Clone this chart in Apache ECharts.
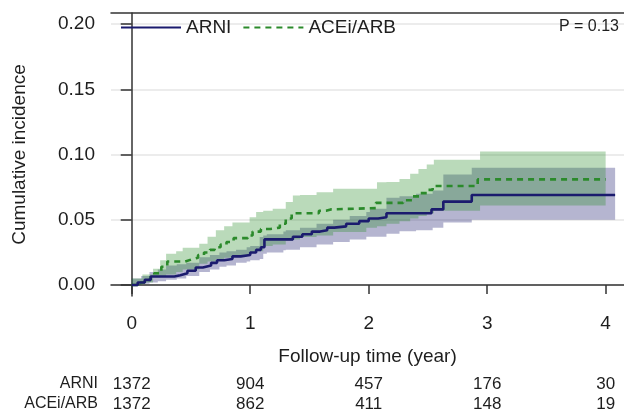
<!DOCTYPE html>
<html>
<head>
<meta charset="utf-8">
<script src="https://cdn.jsdelivr.net/npm/echarts@6.0.0/dist/echarts.min.js"></script>
<style>
  html, body { margin: 0; padding: 0; background: #fff; }
  #chart { width: 624px; height: 415px; }
</style>
</head>
<body>
<div id="chart"></div>
<script>
// cumulative incidence, step curves
const arniTime = [0, 0.05, 0.11, 0.16, 0.36, 0.41, 0.47, 0.54, 0.60, 0.67, 0.72, 0.78, 0.85, 0.92, 1.00, 1.05, 1.09, 1.12, 1.36, 1.44, 1.52, 1.59, 1.65, 1.71, 1.81, 1.92, 2.00, 2.08, 2.15, 2.53, 2.63, 2.87, 4.08];
const arniInc = [0, 0.002, 0.004, 0.0065, 0.0075, 0.009, 0.011, 0.0135, 0.015, 0.017, 0.019, 0.020, 0.022, 0.023, 0.025, 0.027, 0.029, 0.035, 0.037, 0.039, 0.041, 0.042, 0.044, 0.045, 0.047, 0.049, 0.051, 0.052, 0.055, 0.058, 0.064, 0.069, 0.069];

const aceiTime = [0, 0.05, 0.11, 0.16, 0.19, 0.25, 0.30, 0.45, 0.50, 0.56, 0.61, 0.66, 0.70, 0.75, 0.80, 0.86, 0.98, 1.02, 1.09, 1.17, 1.25, 1.30, 1.35, 1.58, 1.64, 1.68, 2.06, 2.29, 2.37, 2.43, 2.50, 2.54, 2.92, 4.00];
const aceiInc = [0, 0.002, 0.004, 0.007, 0.009, 0.014, 0.018, 0.0195, 0.021, 0.023, 0.025, 0.027, 0.029, 0.031, 0.033, 0.036, 0.038, 0.041, 0.043, 0.044, 0.047, 0.051, 0.055, 0.057, 0.058, 0.059, 0.063, 0.065, 0.068, 0.0705, 0.073, 0.076, 0.081, 0.081];

// 95% CI bands
const arniBandTime = [0, 0.08, 0.15, 0.22, 0.29, 0.38, 0.46, 0.57, 0.66, 0.74, 0.80, 0.88, 0.97, 1.00, 1.08, 1.11, 1.14, 1.28, 1.30, 1.42, 1.56, 1.70, 1.84, 1.98, 2.01, 2.15, 2.26, 2.40, 2.54, 2.63, 2.87, 4.08];
const arniLower = [0, 0.001, 0.002, 0.003, 0.004, 0.005, 0.007, 0.010, 0.012, 0.014, 0.015, 0.017, 0.018, 0.019, 0.020, 0.024, 0.025, 0.0266, 0.027, 0.029, 0.031, 0.033, 0.035, 0.037, 0.037, 0.0394, 0.0413, 0.042, 0.044, 0.048, 0.050, 0.050];
const arniUpper = [0.005, 0.007, 0.010, 0.012, 0.015, 0.016, 0.017, 0.0214, 0.023, 0.025, 0.026, 0.027, 0.029, 0.030, 0.0368, 0.038, 0.039, 0.041, 0.042, 0.044, 0.047, 0.050, 0.053, 0.056, 0.0585, 0.067, 0.068, 0.070, 0.0725, 0.0848, 0.090, 0.090];

const aceiBandTime = [0, 0.09, 0.18, 0.24, 0.29, 0.375, 0.43, 0.57, 0.64, 0.71, 0.78, 0.85, 0.995, 1.05, 1.11, 1.19, 1.30, 1.36, 1.42, 1.56, 1.70, 1.98, 2.07, 2.15, 2.26, 2.35, 2.42, 2.49, 2.55, 2.94, 4.00];
const aceiLower = [0, 0.002, 0.006, 0.007, 0.008, 0.010, 0.012, 0.0164, 0.018, 0.020, 0.021, 0.0227, 0.025, 0.026, 0.030, 0.031, 0.034, 0.035, 0.0368, 0.038, 0.0406, 0.044, 0.045, 0.047, 0.049, 0.051, 0.053, 0.055, 0.057, 0.061, 0.061];
const aceiUpper = [0.005, 0.008, 0.0125, 0.019, 0.024, 0.026, 0.0286, 0.0317, 0.037, 0.042, 0.045, 0.048, 0.052, 0.056, 0.057, 0.0585, 0.0636, 0.0687, 0.069, 0.0712, 0.0738, 0.0738, 0.0789, 0.079, 0.0814, 0.0853, 0.089, 0.0924, 0.096, 0.1024, 0.1024];

// number at risk
const riskYears = [0, 1, 2, 3, 4];
const arniAtRisk = [1372, 904, 457, 176, 30];
const aceiAtRisk = [1372, 862, 411, 148, 19];

const yTicks = [0, 0.05, 0.10, 0.15, 0.20];

const FONT = 'Liberation Sans, Arial, sans-serif';
const INK = '#1e1e1e';
const AXIS = '#333333';
const NAVY = '#1b1b6e';
const GREEN = '#2b8a2b';

const X_MIN = -0.175, X_MAX = 4.155;

function pairs(xs, ys) {
  return xs.map((x, i) => [x, ys[i]]);
}

function bandRows(xs, lo, hi) {
  return xs.map((x, i) => [x, lo[i], hi[i]]);
}

// draws the whole step-shaped band as one polygon
function bandRenderer(fill) {
  return function (params, api) {
    if (params.dataIndexInside !== 0) return null;
    const n = params.dataInsideLength;
    const top = [], bottom = [];
    for (let j = 0; j < n; j++) {
      const t = api.value(0, j);
      const tNext = j < n - 1 ? api.value(0, j + 1) : t;
      const lo = api.value(1, j), hi = api.value(2, j);
      top.push(api.coord([t, hi]), api.coord([tNext, hi]));
      bottom.push(api.coord([t, lo]), api.coord([tNext, lo]));
    }
    return {
      type: 'polygon',
      silent: true,
      shape: { points: top.concat(bottom.reverse()) },
      style: { fill: fill }
    };
  };
}

function riskAxis(name, counts, offset) {
  return {
    type: 'value', gridIndex: 0, position: 'bottom', offset: offset,
    min: X_MIN, max: X_MAX,
    axisLine: { show: false }, axisTick: { show: false }, splitLine: { show: false },
    axisLabel: {
      customValues: riskYears, margin: 0, verticalAlign: 'middle',
      fontFamily: FONT, fontSize: 17, color: INK,
      formatter: v => String(counts[riskYears.indexOf(Math.round(v))])
    },
    name: name, nameLocation: 'start', nameGap: 13,
    nameTextStyle: { fontFamily: FONT, fontSize: 16, color: INK, align: 'right', verticalAlign: 'middle' }
  };
}

const chart = echarts.init(document.getElementById('chart'), null, { renderer: 'canvas' });

chart.setOption({
  backgroundColor: '#ffffff',
  animation: false,
  grid: { left: 111, right: 0, top: 13, bottom: 119 },
  legend: {
    data: ['ARNI', 'ACEi/ARB'],
    left: 120, top: 18, padding: 0,
    itemWidth: 60, itemHeight: 20, itemGap: 11,
    itemStyle: { opacity: 0 },
    textStyle: { fontFamily: FONT, fontSize: 19, color: INK }
  },
  graphic: [{
    type: 'text', right: 5, top: 19, z: 100,
    style: { text: 'P = 0.13', font: '16px ' + FONT, fill: INK }
  }],
  xAxis: [
    {
      type: 'value', position: 'bottom', min: X_MIN, max: X_MAX,
      axisLine: { show: true, lineStyle: { color: AXIS, width: 1.5 } },
      axisTick: { show: true, customValues: riskYears, length: 9, lineStyle: { color: AXIS, width: 1.5 } },
      axisLabel: { customValues: riskYears, margin: 18, fontFamily: FONT, fontSize: 19, color: INK },
      splitLine: { show: false },
      name: 'Follow-up time (year)', nameLocation: 'middle', nameGap: 51,
      nameTextStyle: { fontFamily: FONT, fontSize: 19, color: INK }
    },
    riskAxis('ARNI', arniAtRisk, 88),
    riskAxis('ACEi/ARB', aceiAtRisk, 108),
    {
      type: 'value', position: 'top', min: X_MIN, max: X_MAX,
      axisLine: { show: true, lineStyle: { color: AXIS, width: 1.5 } },
      axisTick: { show: false }, axisLabel: { show: false }, splitLine: { show: false }
    }
  ],
  yAxis: {
    type: 'value', min: -0.0084, max: 0.2086,
    axisLine: { show: true, lineStyle: { color: AXIS, width: 1.5 } },
    axisTick: { show: true, customValues: yTicks, length: 11, lineStyle: { color: AXIS, width: 1.5 } },
    axisLabel: {
      customValues: yTicks, margin: 16, fontFamily: FONT, fontSize: 19, color: INK,
      formatter: v => v.toFixed(2)
    },
    splitLine: { show: true, lineStyle: { color: '#e6e6e6', width: 1.5 } },
    name: 'Cumulative incidence', nameLocation: 'middle', nameGap: 82,
    nameTextStyle: { fontFamily: FONT, fontSize: 19, color: INK }
  },
  series: [
    {
      name: 'ARNI 95% CI', type: 'custom', xAxisIndex: 0,
      data: bandRows(arniBandTime, arniLower, arniUpper),
      encode: { x: 0, y: [1, 2] },
      renderItem: bandRenderer('rgba(26,26,110,0.32)'),
      z: 1
    },
    {
      name: 'ACEi/ARB 95% CI', type: 'custom', xAxisIndex: 0,
      data: bandRows(aceiBandTime, aceiLower, aceiUpper),
      encode: { x: 0, y: [1, 2] },
      renderItem: bandRenderer('rgba(40,140,40,0.32)'),
      z: 1
    },
    {
      name: 'ACEi/ARB', type: 'line', xAxisIndex: 0, step: 'end', symbol: 'none',
      data: pairs(aceiTime, aceiInc),
      lineStyle: { color: GREEN, width: 2.6, type: [6, 5] },
      itemStyle: { color: GREEN },
      z: 3
    },
    {
      name: 'ARNI', type: 'line', xAxisIndex: 0, step: 'end', symbol: 'none',
      data: pairs(arniTime, arniInc),
      lineStyle: { color: NAVY, width: 2.6 },
      itemStyle: { color: NAVY },
      z: 4
    }
  ]
});
</script>
</body>
</html>
